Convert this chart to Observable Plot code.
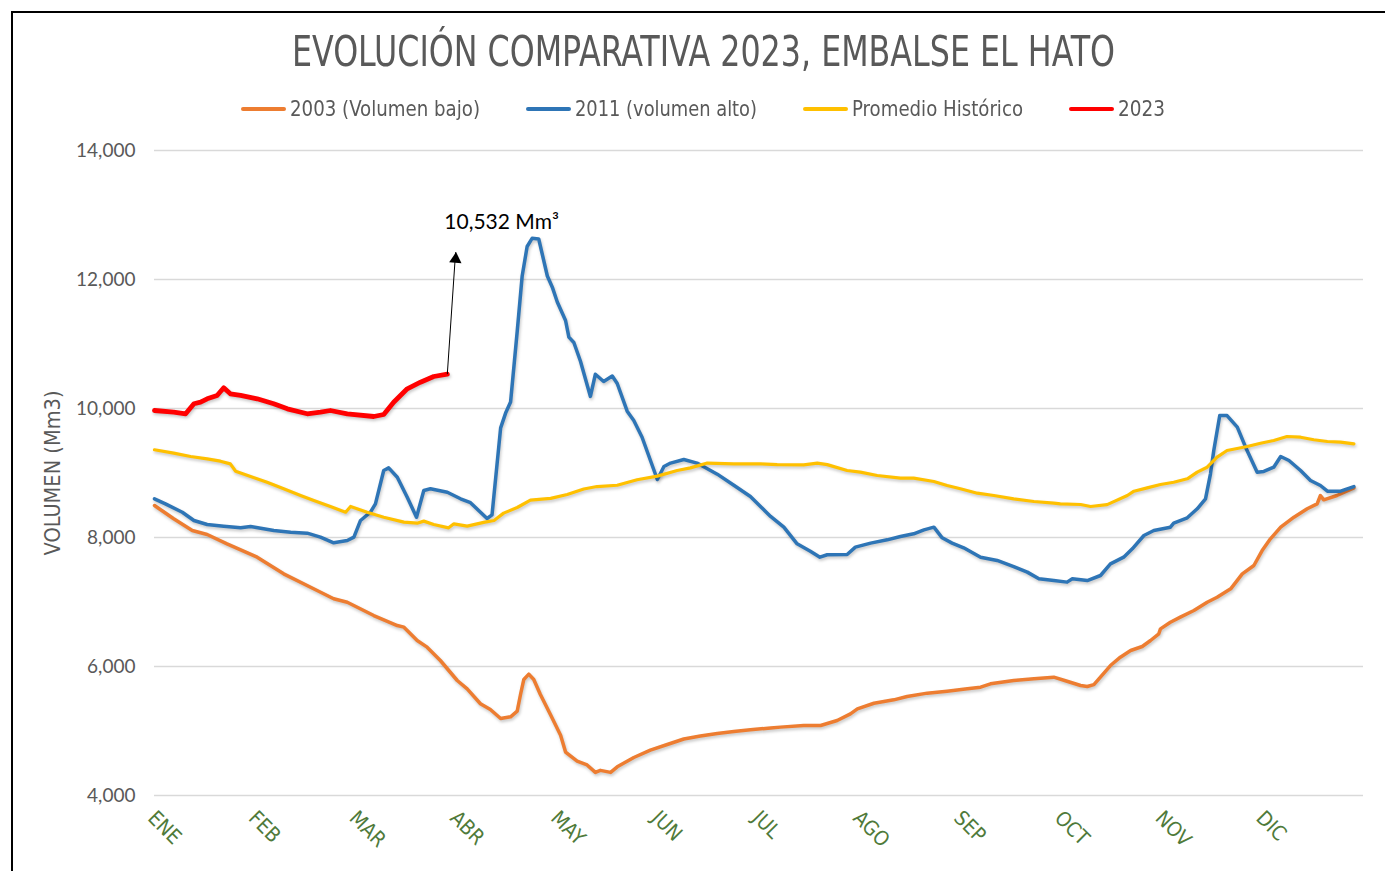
<!DOCTYPE html>
<html>
<head>
<meta charset="utf-8">
<script src="https://cdn.jsdelivr.net/npm/d3@7"></script>
<script src="https://cdn.jsdelivr.net/npm/@observablehq/plot@0.6"></script>
<style>
  html, body { margin: 0; padding: 0; background: #fff; }
  body { width: 1385px; height: 871px; overflow: hidden; position: relative;
         font-family: "Liberation Sans Narrow", "DejaVu Sans Condensed", "Liberation Sans", sans-serif; }
  #frame { position: absolute; left: 11px; top: 11px; width: 1420px; height: 900px;
           border-left: 2.5px solid #000; border-top: 2.5px solid #000; }
  #title { position: absolute; left: 0; top: 31px; width: 1406px; text-align: center;
           font-size: 42px; line-height: 42px; color: #595959; white-space: nowrap; }
  #legend { position: absolute; left: 0; top: 97px; width: 1406px; height: 24px;
            display: flex; justify-content: center; align-items: center; gap: 46px; }
  .item { display: flex; align-items: center; gap: 4px; }
  .sw { width: 45px; height: 4px; border-radius: 2px; }
  .fit { display: inline-block; white-space: nowrap; overflow: visible; }
  .fit > span { display: inline-block; transform-origin: 0 50%; white-space: nowrap; }
  #legend .fit { font-size: 21px; line-height: 24px; color: #595959; }
  #chart { position: absolute; left: 0; top: 130px; }
  #chart g[aria-label="line"] { filter: drop-shadow(1px 2px 1.5px rgba(0,0,0,0.22)); }
</style>
</head>
<body>
<div id="frame"></div>
<div id="title"><span class="fit" data-w="823"><span>EVOLUCIÓN COMPARATIVA 2023, EMBALSE EL HATO</span></span></div>
<div id="legend"></div>
<div id="chart"></div>
<script>
// ---- Datos ----
const meses = ["ENE","FEB","MAR","ABR","MAY","JUN","JUL","AGO","SEP","OCT","NOV","DIC"];
const ticksVolumen = [4000, 6000, 8000, 10000, 12000, 14000];

const nombres = ["2003 (Volumen bajo)", "2011 (volumen alto)", "Promedio Histórico", "2023"];
const colores = ["#ED7D31", "#2E75B6", "#FFC000", "#FF0000"];

// 2003 (Volumen bajo)
const dias2003 = [0,5.8,11.4,15.9,21.9,31.0,39.0,49.1,54.1,58.2,66.2,73.3,75.3,79.3,82.3,86.3,91.4,94.4,98.4,101.4,104.5,107.5,109.5,110.5,111.5,113.0,114.5,116.5,119.6,122.6,124.1,127.6,130.6,133.1,134.6,137.7,139.7,144.7,149.7,154.8,159.8,164.8,169.9,174.9,179.9,186.0,189.0,196.0,201.1,206.1,210.1,212.2,217.2,223.2,227.2,233.3,239.3,245.4,249.4,252.4,259.4,265.5,271.5,275.5,279.6,281.6,283.6,288.6,291.6,294.7,298.2,300.7,303.2,303.7,306.7,309.7,313.8,317.8,320.8,324.9,328.4,331.9,334.4,336.9,340.0,344.0,348.0,351.0,352.0,353.0,357.0,362.1];
const vol2003 = [8496,8290,8109,8047,7902,7695,7437,7178,7050,6997,6790,6635,6610,6403,6300,6093,5783,5652,5422,5333,5194,5220,5307,5566,5799,5881,5799,5566,5249,4933,4674,4532,4474,4358,4390,4358,4445,4589,4704,4791,4876,4921,4961,4992,5018,5048,5060,5086,5086,5163,5266,5344,5430,5483,5535,5587,5618,5654,5680,5731,5783,5809,5835,5772,5706,5690,5720,6015,6144,6248,6310,6403,6507,6584,6687,6765,6868,6997,7074,7204,7437,7566,7798,7980,8160,8315,8445,8522,8651,8584,8651,8770];

// 2011 (volumen alto)
const dias2011 = [0,3.3,8.4,11.9,15.9,20.9,26.0,29.0,36.0,41.1,46.1,50.1,54.1,58.2,60.2,62.2,65.2,66.7,69.2,70.7,73.3,76.3,79.1,81.3,83.3,88.4,92.4,95.4,100.4,101.9,104.5,106.0,107.5,109.5,111.0,112.5,114.0,116.0,118.6,120.1,121.6,124.1,125.1,126.6,128.6,131.6,133.1,135.6,138.2,139.7,142.7,144.7,147.2,151.8,153.8,155.8,159.8,163.8,169.9,174.9,179.9,186.0,190.0,194.0,198.0,200.9,203.1,209.1,211.6,216.2,221.2,225.2,229.2,232.3,235.3,237.8,240.8,244.3,249.4,254.4,259.4,263.5,267.0,271.5,275.5,277.1,281.6,285.6,288.6,292.6,295.2,298.7,301.7,306.7,307.7,311.8,314.8,317.3,318.8,319.8,321.6,323.8,326.9,329.4,332.9,334.9,337.9,340.0,342.5,346.0,349.0,352.0,354.1,358.1,362.1];
const vol2011 = [8600,8522,8392,8264,8202,8175,8150,8170,8109,8082,8067,8005,7918,7953,8005,8264,8392,8522,9039,9080,8935,8625,8315,8729,8755,8702,8600,8540,8295,8351,9699,9929,10101,11194,12054,12512,12639,12628,12054,11881,11651,11364,11106,11023,10733,10187,10531,10418,10504,10388,9958,9814,9554,8899,9101,9154,9210,9154,8982,8810,8636,8326,8160,7902,7787,7695,7732,7737,7850,7913,7964,8016,8057,8119,8160,7995,7913,7840,7695,7644,7550,7463,7360,7333,7308,7360,7333,7411,7592,7695,7825,8031,8108,8160,8222,8305,8445,8600,8987,9349,9891,9891,9710,9400,9013,9024,9090,9256,9194,9039,8884,8806,8718,8718,8790];

// Promedio Histórico
const diasProm = [0,5.8,10.9,15.9,19.9,22.9,24.5,29.0,34.0,39.0,44.1,48.1,53.1,57.7,59.2,64.2,69.2,75.3,79.3,81.3,84.3,88.8,90.4,94.4,99.4,102.5,105.4,109.5,113.5,119.6,124.6,129.6,133.6,139.7,145.7,151.8,157.8,161.8,166.9,174.9,183.0,188.0,196.0,200.1,203.1,209.1,213.1,218.2,225.2,229.2,235.3,239.3,243.3,248.4,253.4,259.4,265.5,271.5,273.5,279.6,282.6,287.6,293.7,295.7,299.7,303.7,307.7,311.8,314.8,317.8,320.8,323.8,329.9,333.9,337.9,341.9,346.0,350.0,354.1,358.1,362.1];
const volProm = [9360,9307,9256,9220,9183,9142,9028,8946,8857,8755,8651,8574,8481,8392,8481,8392,8315,8238,8222,8254,8202,8150,8212,8177,8235,8264,8378,8465,8580,8607,8667,8752,8790,8810,8895,8952,9039,9079,9154,9140,9142,9130,9126,9152,9130,9039,9013,8961,8920,8920,8868,8806,8755,8687,8651,8600,8558,8532,8522,8512,8481,8510,8651,8718,8770,8822,8857,8910,9013,9090,9245,9349,9411,9462,9504,9566,9555,9515,9488,9478,9452];

// 2023
const dias2023 = [0,5.8,9.4,11.9,13.9,15.9,18.9,20.9,22.9,26.0,31.0,36.0,40.1,46.1,50.1,53.1,58.2,66.2,69.2,72.2,76.3,80.3,84.3,88.4];
const vol2023 = [9969,9943,9918,10073,10098,10150,10202,10321,10228,10202,10150,10073,9995,9918,9943,9969,9918,9876,9907,10098,10305,10408,10496,10532];

// Anotación (día y volumen)
const anotacion = [{texto: "10,532 Mm³", dia0: 88.4, vol0: 10532, dia1: 90.9, vol1: 12423, diaT: 104.8, volT: 12884}];

// ---- Construcción ----
const series = [
  {nombre: nombres[0], dias: dias2003, vol: vol2003, ancho: 3.5},
  {nombre: nombres[1], dias: dias2011, vol: vol2011, ancho: 3.5},
  {nombre: nombres[2], dias: diasProm, vol: volProm, ancho: 3.2},
  {nombre: nombres[3], dias: dias2023, vol: vol2023, ancho: 4.8}
];
const tabla = s => s.dias.map((d, i) => ({serie: s.nombre, dia: d, vol: s.vol[i]}));
const mesTicks = meses.map((m, i) => i * 365 / 12);

// Legend
const leg = document.getElementById("legend");
const legW = [190, 182, 171, 47];
nombres.forEach((n, i) => {
  const it = document.createElement("div");
  it.className = "item";
  it.innerHTML = `<div class="sw" style="background:${colores[i]}"></div><span class="fit" data-w="${legW[i]}"><span>${n}</span></span>`;
  leg.appendChild(it);
});

const chart = Plot.plot({
  width: 1385,
  height: 741,
  marginLeft: 154,
  marginRight: 22,
  marginTop: 20,
  marginBottom: 76,
  style: {background: "transparent", fontFamily: "Lato, 'Open Sans', sans-serif"},
  x: {domain: [0, 365]},
  y: {domain: [4000, 14000]},
  color: {domain: nombres, range: colores},
  marks: [
    Plot.ruleY(ticksVolumen, {stroke: "#D9D9D9", strokeWidth: 1.5}),
    Plot.axisY({ticks: ticksVolumen, tickFormat: d3.format(","), tickSize: 0, tickPadding: 19,
                fontSize: 19, fill: "#595959", label: null}),
    Plot.axisX({ticks: mesTicks, tickFormat: d => meses[Math.round(d * 12 / 365)], tickRotate: 45,
                tickSize: 0, tickPadding: 19, dx: -3, fontSize: 20.5, fill: "#4F7A3A", label: null,
                fontFamily: "'Liberation Sans Narrow', 'DejaVu Sans Condensed', sans-serif"}),
    Plot.text(["VOLUMEN (Mm3)"], {frameAnchor: "left", textAnchor: "middle", rotate: -90, dx: -101, fontSize: 19,
                fill: "#595959", fontFamily: "'Liberation Sans Narrow', 'DejaVu Sans Condensed', sans-serif"}),
    ...series.map(s => Plot.line(tabla(s), {x: "dia", y: "vol", stroke: "serie", strokeWidth: s.ancho,
                strokeLinejoin: "round", strokeLinecap: "round"})),
    Plot.link(anotacion, {x1: "dia0", y1: "vol0", x2: "dia1", y2: "vol1", stroke: "#000", strokeWidth: 1}),
    Plot.dot(anotacion, {x: "dia1", y: "vol1", symbol: "triangle", r: 4.6, fill: "#000", stroke: "none",
                dy: 7, rotate: 4}),
    Plot.text(anotacion, {x: "diaT", y: "volT", text: "texto", fontSize: 21, fill: "#000",
                textAnchor: "middle", lineAnchor: "middle", fontFamily: "Lato, 'Open Sans', sans-serif"})
  ]
});
document.getElementById("chart").appendChild(chart);

// ajustar anchos de textos condensados
function ajustar() {
  document.querySelectorAll(".fit").forEach(el => {
    const inner = el.firstElementChild;
    inner.style.transform = "none";
    const w = inner.getBoundingClientRect().width;
    const t = +el.dataset.w;
    el.style.width = t + "px";
    inner.style.transform = `scaleX(${t / w})`;
  });
  const yl = Array.from(chart.querySelectorAll("text")).find(t => t.textContent === "VOLUMEN (Mm3)");
  if (yl) {
    yl.setAttribute("font-size", 19);
    const len = yl.getComputedTextLength();
    if (len > 0) yl.setAttribute("font-size", (19 * 165 / len).toFixed(2));
  }
}
ajustar();
if (document.fonts && document.fonts.ready) document.fonts.ready.then(ajustar);
</script>
</body>
</html>
